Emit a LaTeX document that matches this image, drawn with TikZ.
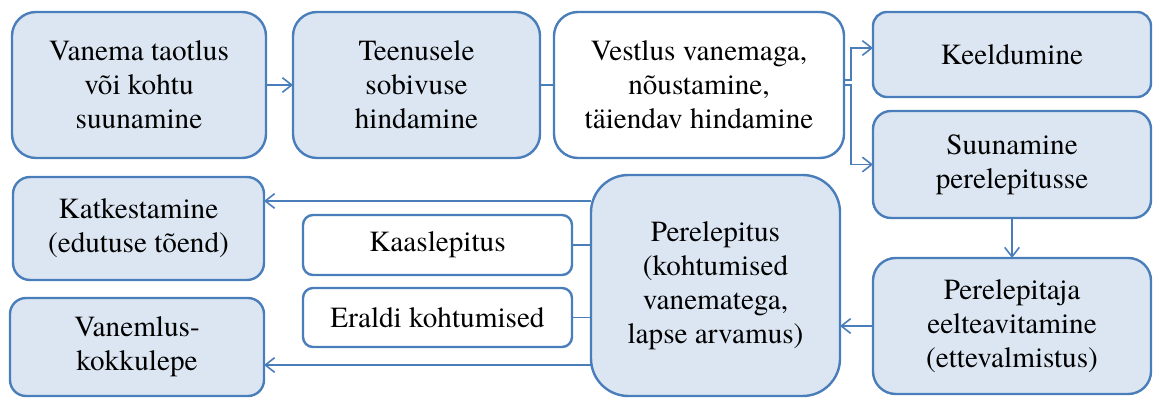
\documentclass[tikz,border=0pt]{standalone}
\usepackage{fontspec}
\setmainfont{texgyretermes}[Extension=.otf,UprightFont=*-regular,BoldFont=*-bold,ItalicFont=*-italic,BoldItalicFont=*-bolditalic]
\usetikzlibrary{arrows.meta,calc}
\definecolor{boxfill}{HTML}{DCE6F2}
\definecolor{boxline}{HTML}{4A7EBB}
\tikzset{
  box/.style={draw=boxline, line width=1.8pt, fill=boxfill, rectangle, rounded corners=#1,
    inner sep=0pt, outer sep=0pt, align=center, text=black,
    font=\rmfamily\fontsize{21.9}{25.5}\selectfont},
  wbox/.style={box=#1, fill=white},
  conn/.style={draw=boxline, line width=1.3pt},
  arr/.style={conn, -{Straight Barb[length=7pt,width=11pt,line width=1.2pt]}}
}
\begin{document}
\begin{tikzpicture}[x=0.75pt,y=-0.75pt]
\useasboundingbox (0,0) rectangle (1155,398);
\node[box=18pt, minimum width=190.5pt, minimum height=109.5pt] (A) at (139,85) {Vanema taotlus\\või kohtu\\suunamine};
\node[box=18pt, minimum width=185.25pt, minimum height=109.5pt] (B) at (416.5,85) {Teenusele\\sobivuse\\hindamine};
\node[wbox=18pt, minimum width=217.5pt, minimum height=109.5pt] (C) at (699,85) {Vestlus vanemaga,\\nõustamine,\\täiendav hindamine};
\node[box=10.5pt, minimum width=208.5pt, minimum height=63.75pt] (D) at (1012,54.5) {Keeldumine};
\node[box=13.5pt, minimum width=208.5pt, minimum height=80.25pt] (E) at (1012,164.5) {Suunamine\\perelepitusse};
\node[box=17pt, minimum width=208.5pt, minimum height=102pt] (F) at (1012,326) {Perelepitaja\\eelteavitamine\\(ettevalmistus)};
\node[box=28pt, minimum width=186.75pt, minimum height=165.75pt] (G) at (715.5,285.5) {Perelepitus\\(kohtumised\\vanematega,\\lapse arvamus)};
\node[wbox=7.5pt, minimum width=201.75pt, minimum height=45pt] (H) at (437.5,245) {Kaaslepitus};
\node[wbox=7.5pt, minimum width=201.75pt, minimum height=44.25pt] (I) at (437.5,317.5) {Eraldi kohtumised};
\node[box=12.75pt, minimum width=188.25pt, minimum height=77.25pt] (J) at (138.5,228.5) {Katkestamine\\(edutuse tõend)};
\node[box=12pt, minimum width=190.5pt, minimum height=73.5pt] (K) at (137,347) {Vanemlus-\\kokkulepe};

\draw[arr] (A) -- (B);
\draw[conn] (B) -- (C);
\draw[arr] ($(C.east)+(0,-5)$) -- ++(7,0) |- ($(D.west)+(0,-6.5)$);
\draw[arr] (C.east) -- ++(7,0) |- (E.west);
\draw[arr] (E) -- (F);
\draw[arr] (F.west) -- (F.west -| G.east);
\draw[arr] ($(G.west)+(0,-84.5)$) -- ($(J.east)+(0,-27.5)$);
\draw[conn] (H.east) -- (H.east -| G.west);
\draw[conn] (I.east) -- (I.east -| G.west);
\draw[arr] ($(G.west)+(0,79.5)$) -- ($(K.east)+(0,18)$);
\end{tikzpicture}
\end{document}
